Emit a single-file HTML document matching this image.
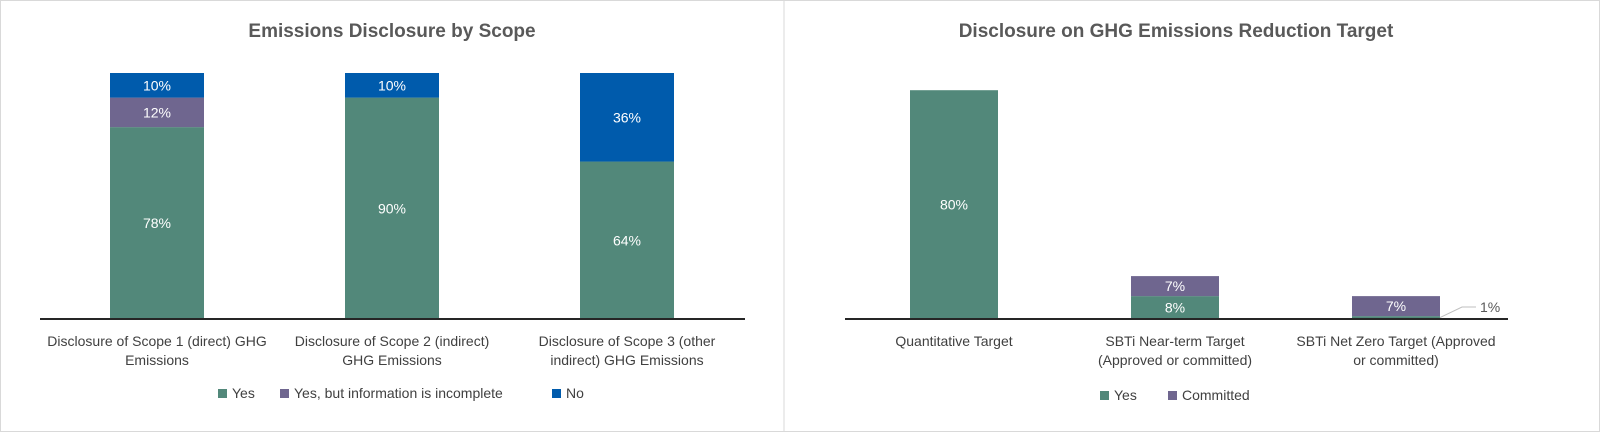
<!DOCTYPE html>
<html><head><meta charset="utf-8"><style>
body{margin:0;background:#fff;font-family:"Liberation Sans",sans-serif}
svg{display:block}
</style></head><body>
<svg id="s" width="1600" height="432">
<rect x="0.5" y="0.5" width="1599" height="431" fill="#fff" stroke="#d9d9d9"/>
<line x1="784" y1="0" x2="784" y2="432" stroke="#d9d9d9"/>
<text x="392" y="37" text-anchor="middle" font-size="19" font-weight="bold" fill="#595959">Emissions Disclosure by Scope</text>
<text x="1176" y="37" text-anchor="middle" font-size="19" font-weight="bold" fill="#595959">Disclosure on GHG Emissions Reduction Target</text>
<g id="L"></g><g id="R"></g>
</svg>
<script>
const leftCats=[["Disclosure of Scope 1 (direct) GHG","Emissions"],["Disclosure of Scope 2 (indirect)","GHG Emissions"],["Disclosure of Scope 3 (other","indirect) GHG Emissions"]];
const leftYes=[78,90,64];
const leftIncomplete=[12,0,0];
const leftNo=[10,10,36];
const rightCats=[["Quantitative Target"],["SBTi Near-term Target","(Approved or committed)"],["SBTi Net Zero Target (Approved","or committed)"]];
const rightYes=[80,8,1];
const rightCommitted=[0,7,7];
const NS="http://www.w3.org/2000/svg";
function mk(p,t,a,txt){const e=document.createElementNS(NS,t);for(const k in a)e.setAttribute(k,a[k]);if(txt!=null)e.textContent=txt;p.appendChild(e);return e;}
const C={g:"#52887A",p:"#6F668F",b:"#005BAC"};
const L=document.getElementById('L');
const base=319, lScale=v=>v*2.46, lX=i=>157+i*235;
leftCats.forEach((c,i)=>{
  let y=base;
  [[leftYes,C.g,'yes'],[leftIncomplete,C.p,'incomplete'],[leftNo,C.b,'no']].forEach(([arr,col,nm])=>{
    const v=arr[i]; if(!v)return; const h=lScale(v); y-=h;
    const r=mk(L,'rect',{x:lX(i)-47,y:y,width:94,height:h,fill:col});
    
    
    const t=mk(L,'text',{x:lX(i),y:y+h/2+5,'text-anchor':'middle','font-size':14,fill:'#fff'},v+'%');
    
    
  });
  c.forEach((ln,j)=>{const t=mk(L,'text',{x:lX(i),y:346+j*19,'text-anchor':'middle','font-size':14,fill:'#404040'},ln);
    
    });
});
let ax=mk(L,'line',{x1:40,x2:745,y1:base,y2:base,stroke:'#262626','stroke-width':2});


const R=document.getElementById('R');
const rScale=v=>v*2.86, rX=i=>954+i*221;
rightCats.forEach((c,i)=>{
  let y=base;
  [[rightYes,C.g,'yes'],[rightCommitted,C.p,'committed']].forEach(([arr,col,nm])=>{
    const v=arr[i]; if(!v)return; const h=rScale(v); y-=h;
    const r=mk(R,'rect',{x:rX(i)-44,y:y,width:88,height:h,fill:col});
    
    
    if(h>12){const t=mk(R,'text',{x:rX(i),y:y+h/2+5,'text-anchor':'middle','font-size':14,fill:'#fff'},v+'%');
      
      }
    else{const l=mk(R,'polyline',{points:(rX(i)+44)+','+(y+h/2)+' '+(rX(i)+66)+','+(base-12)+' '+(rX(i)+80)+','+(base-12),fill:'none',stroke:'#bfbfbf'});
      
      
      const t=mk(R,'text',{x:rX(i)+84,y:base-7,'font-size':14,fill:'#595959'},v+'%');
      
      }
  });
  c.forEach((ln,j)=>{const t=mk(R,'text',{x:rX(i),y:346+j*19,'text-anchor':'middle','font-size':14,fill:'#404040'},ln);
    
    });
});
ax=mk(R,'line',{x1:845,x2:1508,y1:base,y2:base,stroke:'#262626','stroke-width':2});


function leg(p,x,y,col,txt){const g=mk(p,'g',{});
  mk(g,'rect',{x:x,y:y-9,width:9,height:9,fill:col});mk(g,'text',{x:x+14,y:y,'font-size':14,fill:'#404040'},txt);}
leg(L,218,398,C.g,'Yes');leg(L,280,398,C.p,'Yes, but information is incomplete');leg(L,552,398,C.b,'No');
leg(R,1100,400,C.g,'Yes');leg(R,1168,400,C.p,'Committed');
</script>
</body></html>
